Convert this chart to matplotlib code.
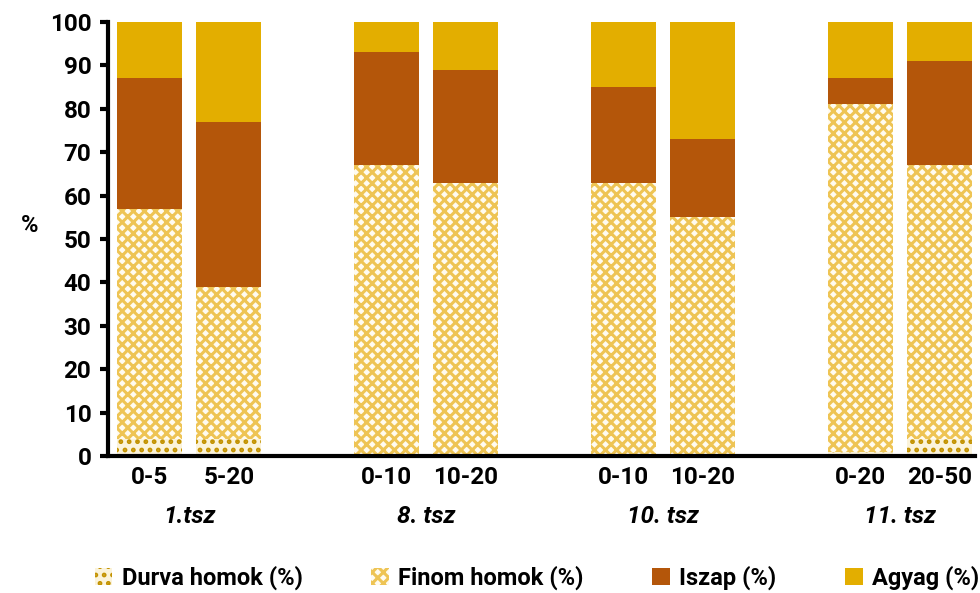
import matplotlib.pyplot as plt
import matplotlib.transforms as mtransforms
import numpy as np

plt.rcParams['font.family'] = ['Roboto', 'DejaVu Sans']
plt.rcParams['hatch.linewidth'] = 2.2

depths = ['0-5', '5-20', '0-10', '10-20', '0-10', '10-20', '0-20', '20-50']
groups = ['1.tsz', '8. tsz', '10. tsz', '11. tsz']
positions = [0, 1, 3, 4, 6, 7, 9, 10]

durva = [4, 4, 0.5, 0.5, 0.5, 0.5, 1, 4]
finom = [53, 35, 66.5, 62.5, 62.5, 54.5, 80, 63]
iszap = [30, 38, 26, 26, 22, 18, 6, 24]
agyag = [13, 23, 7, 11, 15, 27, 13, 9]

labels = ['Durva homok (%)', 'Finom homok (%)', 'Iszap (%)', 'Agyag (%)']

fig = plt.figure(figsize=(9.8, 5.93), dpi=100)
ax = fig.add_axes([108 / 980, 1 - 456 / 593, (975 - 108) / 980, (456 - 22) / 593])

w = 0.82
x = np.array(positions, dtype=float)
bottom = np.zeros(len(x))

b1 = ax.bar(x, durva, w, bottom=bottom, color='#FBF3DA', edgecolor='#C39200',
            hatch='..', linewidth=0, label=labels[0])
bottom += durva
b2 = ax.bar(x, finom, w, bottom=bottom, color='#FFFBF0', edgecolor='#EEC454',
            hatch='xxx', linewidth=0, label=labels[1])
bottom += finom
b3 = ax.bar(x, iszap, w, bottom=bottom, color='#B4560A', linewidth=0, label=labels[2])
bottom += iszap
b4 = ax.bar(x, agyag, w, bottom=bottom, color='#E3AE00', linewidth=0, label=labels[3])

ax.set_ylim(0, 100)
ax.set_xlim(-0.53, 10.45)
ax.set_yticks(range(0, 101, 10))
ax.set_xticks(positions)
ax.set_xticklabels(depths)
ax.tick_params(axis='y', direction='out', length=6, width=3, labelsize=17.5, pad=6)
ax.tick_params(axis='x', length=0, labelsize=17.5, pad=7)
for lab in ax.get_xticklabels() + ax.get_yticklabels():
    lab.set_fontweight('bold')

ax.spines['top'].set_visible(False)
ax.spines['right'].set_visible(False)
ax.spines['left'].set_linewidth(3)
ax.spines['bottom'].set_linewidth(3)

ax.text(-0.09, 0.532, '%', transform=ax.transAxes, ha='center', va='center',
        fontsize=17, fontweight='bold')

trans = mtransforms.blended_transform_factory(ax.transData, ax.transAxes)
for i, g in enumerate(groups):
    cx = (positions[2 * i] + positions[2 * i + 1]) / 2
    ax.text(cx, -0.14, g, transform=trans, ha='center', va='center',
            fontsize=17.5, fontweight='bold', fontstyle='italic')

leg = fig.legend(handles=[b1, b2, b3, b4], labels=labels, loc='center',
                 bbox_to_anchor=(0.548, 1 - 578 / 593), ncol=4, frameon=False,
                 prop={'size': 17, 'weight': 'bold'}, handlelength=0.75,
                 handleheight=0.75, handletextpad=0.4, columnspacing=2.9)

fig.savefig('out.png', dpi=100)
